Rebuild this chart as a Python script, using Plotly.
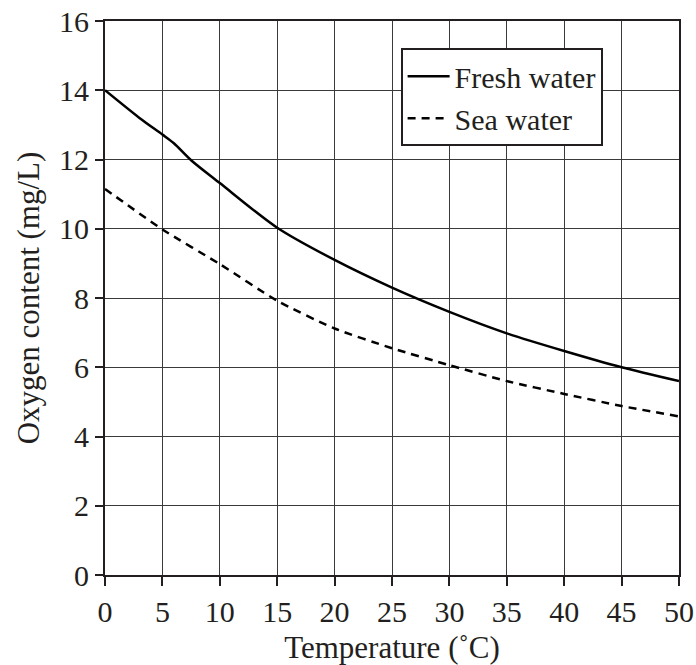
import plotly.graph_objects as go

fresh_temp = [0, 3, 5, 6, 7.5, 10, 15, 20, 25, 30, 35, 40, 45, 50]
fresh_oxygen = [14.0, 13.2, 12.72, 12.47, 11.98, 11.32, 10.03, 9.1, 8.3, 7.6, 6.98, 6.47, 6.0, 5.6]

sea_temp = [0, 5, 10, 15, 20, 25, 30, 35, 40, 45, 50]
sea_oxygen = [11.15, 9.98, 8.98, 7.92, 7.12, 6.55, 6.06, 5.6, 5.23, 4.88, 4.58]

x_ticks = [0, 5, 10, 15, 20, 25, 30, 35, 40, 45, 50]
y_ticks = [0, 2, 4, 6, 8, 10, 12, 14, 16]

FONT = "Liberation Serif"
INK = "#231f20"

fig = go.Figure()
fig.add_trace(go.Scatter(x=fresh_temp, y=fresh_oxygen, mode="lines", name="Fresh water",
                         line=dict(color="black", width=2.5, shape="spline", smoothing=0.8)))
fig.add_trace(go.Scatter(x=sea_temp, y=sea_oxygen, mode="lines", name="Sea water",
                         line=dict(color="black", width=2.5, dash="8px,6px", shape="spline", smoothing=0.6)))

fig.update_layout(
    width=696, height=665,
    margin=dict(l=105, r=17, t=21, b=90),
    paper_bgcolor="white", plot_bgcolor="white",
    font=dict(family=FONT, size=30, color=INK),
    showlegend=True,
    legend=dict(x=0.515, y=0.951, xanchor="left", yanchor="top",
                bgcolor="white", bordercolor=INK, borderwidth=2,
                font=dict(family=FONT, size=30, color=INK),
                tracegroupgap=0, itemwidth=42),
)
fig.update_xaxes(
    range=[0, 50], tickvals=x_ticks, ticktext=[str(v) for v in x_ticks],
    automargin=False,
    showgrid=True, gridcolor="#3a3a3a", gridwidth=1.4,
    showline=True, linecolor=INK, linewidth=2.2, mirror=True,
    ticks="outside", ticklen=9, tickwidth=1.5, tickcolor=INK,
    tickfont=dict(family=FONT, size=30, color=INK),
    zeroline=False,
    title=dict(text="Temperature (˚C)", font=dict(family=FONT, size=31, color=INK), standoff=11),
)
fig.update_yaxes(
    range=[0, 16], tickvals=y_ticks, ticktext=[str(v) for v in y_ticks],
    automargin=False,
    showgrid=True, gridcolor="#3a3a3a", gridwidth=1.4,
    showline=True, linecolor=INK, linewidth=2.2, mirror=True,
    ticks="outside", ticklen=8, tickwidth=1.5, tickcolor=INK,
    tickfont=dict(family=FONT, size=30, color=INK),
    zeroline=False,
    title=dict(text="Oxygen content (mg/L)", font=dict(family=FONT, size=31, color=INK), standoff=10),
)

fig.write_html("out.html", config={"displayModeBar": False},
               post_script="document.body.style.margin='0';document.body.style.overflow='hidden';")
